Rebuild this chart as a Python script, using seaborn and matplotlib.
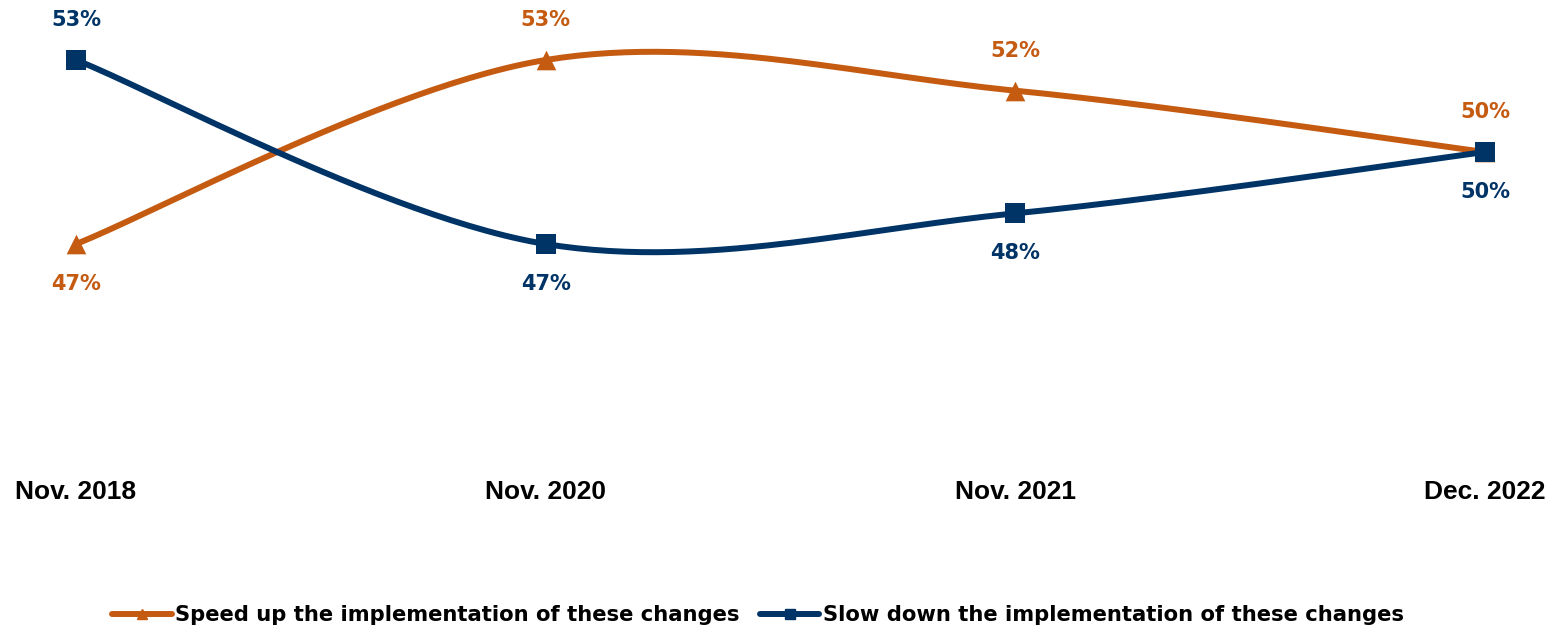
import numpy as np
import pandas as pd
import seaborn as sns
import matplotlib
matplotlib.use("Agg")
import matplotlib.pyplot as plt
from matplotlib.lines import Line2D

# Survey waves and shares of respondents (%)
periods = ["Nov. 2018", "Nov. 2020", "Nov. 2021", "Dec. 2022"]
speed_up = [47, 53, 52, 50]
slow_down = [53, 47, 48, 50]
series_names = ["Speed up the implementation of these changes",
                "Slow down the implementation of these changes"]

ORANGE = "#C55A11"
NAVY = "#003366"

sns.set_theme(style="white")
plt.rcParams["font.family"] = ["DejaVu Sans"]

W, H = 1552, 629
fig = plt.figure(figsize=(W / 100, H / 100), dpi=100)
# plot area: category centres at x=76..1485 px, value 53 at y=60 px, 40 at y≈459 px
x0, x1 = 76, 1485
ytop, ybot = 60, 458.7
ax = fig.add_axes([x0 / W, 1 - ybot / H, (x1 - x0) / W, (ybot - ytop) / H])
ax.set_xlim(0, len(periods) - 1)
ax.set_ylim(40, 53)


def smooth(xs, ys, n=60):
    """Cubic Bezier smoothing through every point (spreadsheet-style smoothed line)."""
    P = np.column_stack([xs, ys]).astype(float)
    m = len(P)
    out = []
    for i in range(m - 1):
        p_prev = P[max(i - 1, 0)]
        p_next2 = P[min(i + 2, m - 1)]
        c1 = P[i] + (P[i + 1] - p_prev) / 6
        c2 = P[i + 1] - (p_next2 - P[i]) / 6
        t = np.linspace(0, 1, n)[:, None]
        seg = ((1 - t) ** 3 * P[i] + 3 * (1 - t) ** 2 * t * c1
               + 3 * (1 - t) * t ** 2 * c2 + t ** 3 * P[i + 1])
        out.append(seg if i == 0 else seg[1:])
    out = np.vstack(out)
    return out[:, 0], out[:, 1]


xs = np.arange(len(periods))
frames = []
for name, vals in zip(series_names, [speed_up, slow_down]):
    sx, sy = smooth(xs, vals)
    frames.append(pd.DataFrame({"x": sx, "y": sy, "series": name}))
curves = pd.concat(frames, ignore_index=True)

palette = {series_names[0]: ORANGE, series_names[1]: NAVY}
sns.lineplot(data=curves, x="x", y="y", hue="series", palette=palette,
             sort=False, estimator=None, linewidth=4.3, legend=False, ax=ax,
             clip_on=False)

pts = pd.DataFrame({"x": np.concatenate([xs, xs]),
                    "y": speed_up + slow_down,
                    "series": [series_names[0]] * 4 + [series_names[1]] * 4})
sns.scatterplot(data=pts[pts.series == series_names[0]], x="x", y="y",
                marker="^", s=200, color=ORANGE, edgecolor=ORANGE, linewidth=0,
                legend=False, ax=ax, clip_on=False, zorder=3)
sns.scatterplot(data=pts[pts.series == series_names[1]], x="x", y="y",
                marker="s", s=200, color=NAVY, edgecolor=NAVY, linewidth=0,
                legend=False, ax=ax, clip_on=False, zorder=4)

# value labels: above for the higher series, below for the lower one
lab_kw = dict(ha="center", va="center", fontsize=15, fontweight="bold",
              textcoords="offset points")
for i in xs:
    a, b = speed_up[i], slow_down[i]
    a_up = a >= b
    ax.annotate(f"{a}%", (i, a), xytext=(0, 28.5 if a_up else -28.5),
                color=ORANGE, **lab_kw)
    ax.annotate(f"{b}%", (i, b), xytext=(0, -28.5 if a_up else 28.5),
                color=NAVY, **lab_kw)

ax.set_xticks(xs)
ax.set_xticklabels(periods, fontsize=19, fontweight="bold",
                   family=["Liberation Sans"], color="black")
ax.tick_params(axis="x", length=0, pad=15)
ax.set_yticks([])
ax.set_xlabel("")
ax.set_ylabel("")
for sp in ax.spines.values():
    sp.set_visible(False)

handles = [Line2D([], [], color=ORANGE, lw=4.3, marker="^", markersize=7),
           Line2D([], [], color=NAVY, lw=4.3, marker="s", markersize=7)]
fig.legend(handles, series_names, loc="center", ncol=2,
           bbox_to_anchor=(758 / W, 1 - 615 / H), frameon=False,
           prop=dict(size=15.2, weight="bold"), labelcolor="black",
           handlelength=2.8, handletextpad=0.15, columnspacing=1.0)

fig.savefig("out.png", dpi=100)
